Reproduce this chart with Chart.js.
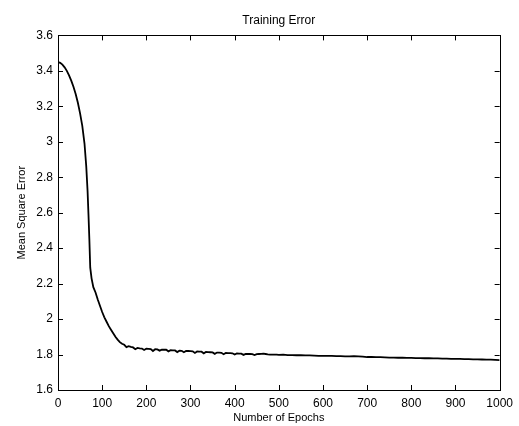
<!DOCTYPE html>
<html>
<head>
<meta charset="utf-8">
<script src="https://cdn.jsdelivr.net/npm/chart.js@4"></script>
<style>
  html, body { margin: 0; padding: 0; background: #fff; }
  #chart { display: block; }
</style>
</head>
<body>
<canvas id="chart" width="519" height="426"></canvas>
<script>
// values
const epochs = [
    0, 5, 10, 15, 20, 25, 30, 35, 40, 45, 50, 55, 60, 64, 67, 69, 71, 73, 76, 80, 85, 90, 95,
    100, 105, 110, 115, 120, 125, 130, 135, 140, 145, 150, 155, 160, 165, 170, 175, 180, 185, 190, 195,
    200, 205, 210, 215, 220, 225, 230, 235, 240, 245, 250, 255, 260, 265, 270, 275, 280, 285, 290, 295,
    300, 305, 310, 315, 320, 325, 330, 335, 340, 345, 350, 355, 360, 365, 370, 375, 380, 385, 390, 395,
    400, 405, 410, 415, 420, 425, 430, 435, 440, 445, 450, 455, 460, 465, 470, 475, 480, 485, 490, 495,
    500, 510, 520, 530, 540, 550, 560, 570, 580, 590, 600, 610, 620, 630, 640, 650, 660, 670, 680, 690,
    700, 710, 720, 730, 740, 750, 760, 770, 780, 790, 800, 810, 820, 830, 840, 850, 860, 870, 880, 890,
    900, 910, 920, 930, 940, 950, 960, 970, 980, 990, 1000
];
const mse = [
    3.45, 3.445, 3.435, 3.42, 3.40, 3.375, 3.345, 3.31, 3.27, 3.22, 3.16, 3.09, 2.99, 2.86, 2.72, 2.59, 2.45, 2.29, 2.23, 2.18, 2.15, 2.11, 2.075,
    2.04, 2.01, 1.985, 1.96, 1.94, 1.92, 1.90, 1.884, 1.870, 1.861, 1.855, 1.842, 1.847, 1.843, 1.840, 1.830, 1.837, 1.835, 1.834, 1.826,
    1.833, 1.832, 1.831, 1.820, 1.830, 1.829, 1.822, 1.828, 1.827, 1.827, 1.818, 1.825, 1.824, 1.823, 1.814, 1.822, 1.821, 1.813, 1.820, 1.820,
    1.819, 1.818, 1.809, 1.817, 1.816, 1.816, 1.807, 1.815, 1.814, 1.813, 1.812, 1.804, 1.811, 1.811, 1.810, 1.802, 1.809, 1.808, 1.808, 1.807,
    1.800, 1.806, 1.805, 1.805, 1.798, 1.804, 1.803, 1.803, 1.802, 1.797, 1.802, 1.803, 1.804, 1.805, 1.803, 1.801, 1.800, 1.800, 1.799, 1.799,
    1.798, 1.799, 1.797, 1.797, 1.796, 1.796, 1.795, 1.795, 1.794, 1.793, 1.793, 1.792, 1.792, 1.791, 1.791, 1.790, 1.790, 1.791, 1.790, 1.788,
    1.786, 1.786, 1.785, 1.785, 1.784, 1.783, 1.783, 1.782, 1.782, 1.781, 1.781, 1.780, 1.780, 1.779, 1.779, 1.778, 1.778, 1.777, 1.777, 1.776,
    1.776, 1.775, 1.774, 1.774, 1.773, 1.773, 1.772, 1.771, 1.771, 1.770, 1.769
];
const xTicks = [0, 100, 200, 300, 400, 500, 600, 700, 800, 900, 1000];
const yTicks = [1.6, 1.8, 2, 2.2, 2.4, 2.6, 2.8, 3, 3.2, 3.4, 3.6];

const points = [];
for (let i = 0; i < epochs.length; i++) {
    points.push({ x: epochs[i], y: mse[i] });
}

// MATLAB style box with inward ticks on all four sides
const boxPlugin = {
    id: "box",
    afterDraw(chart) {
        const ctx = chart.ctx;
        const a = chart.chartArea;
        const xs = chart.scales.x;
        const ys = chart.scales.y;
        const len = 5;
        ctx.save();
        ctx.strokeStyle = "#000";
        ctx.lineWidth = 1;
        ctx.strokeRect(Math.round(a.left) + 0.5, Math.round(a.top) + 0.5,
            Math.round(a.right - a.left), Math.round(a.bottom - a.top));
        ctx.beginPath();
        for (let v of xTicks) {
            const px = Math.round(xs.getPixelForValue(v)) + 0.5;
            ctx.moveTo(px, a.bottom);
            ctx.lineTo(px, a.bottom - len);
            ctx.moveTo(px, a.top);
            ctx.lineTo(px, a.top + len);
        }
        for (let v of yTicks) {
            const py = Math.round(ys.getPixelForValue(v)) + 0.5;
            ctx.moveTo(a.left, py);
            ctx.lineTo(a.left + len, py);
            ctx.moveTo(a.right, py);
            ctx.lineTo(a.right - len, py);
        }
        ctx.stroke();
        ctx.restore();
    }
};

const tickFont = { family: "'Liberation Sans', Arial, sans-serif", size: 12 };
const labelFont = { family: "'Liberation Sans', Arial, sans-serif", size: 11 };

new Chart(document.querySelector("#chart"), {
    type: "line",
    data: {
        datasets: [{
            label: "Training Error",
            data: points,
            borderColor: "#000",
            borderWidth: 1.8,
            pointRadius: 0,
            tension: 0,
            fill: false
        }]
    },
    options: {
        responsive: false,
        animation: false,
        layout: { padding: { top: 0, right: 13, bottom: 0, left: 0 } },
        plugins: {
            legend: { display: false },
            tooltip: { enabled: false },
            title: {
                display: true,
                text: "Training Error",
                fullSize: false,
                color: "#000",
                font: { family: "'Liberation Sans', Arial, sans-serif", size: 12, weight: "normal" },
                padding: { top: 13, bottom: 8 }
            }
        },
        scales: {
            x: {
                type: "linear",
                min: 0,
                max: 1000,
                afterBuildTicks: (scale) => { scale.ticks = xTicks.map(v => ({ value: v })); },
                afterFit: (scale) => { scale.height = 36; },
                grid: { display: false, drawTicks: false },
                border: { display: false },
                ticks: {
                    color: "#000",
                    font: tickFont,
                    padding: 6,
                    maxRotation: 0,
                    callback: (v) => String(v)
                },
                title: {
                    display: true,
                    text: "Number of Epochs",
                    color: "#000",
                    font: labelFont,
                    padding: { top: 0, bottom: 1 }
                }
            },
            y: {
                type: "linear",
                min: 1.6,
                max: 3.6,
                afterBuildTicks: (scale) => { scale.ticks = yTicks.map(v => ({ value: v })); },
                afterFit: (scale) => { scale.width = 58; },
                grid: { display: false, drawTicks: false },
                border: { display: false },
                ticks: {
                    color: "#000",
                    font: tickFont,
                    padding: 5,
                    callback: (v) => String(Math.round(v * 10) / 10)
                },
                title: {
                    display: true,
                    text: "Mean Square Error",
                    color: "#000",
                    font: labelFont,
                    padding: { top: 15, bottom: 0 }
                }
            }
        }
    },
    plugins: [boxPlugin]
});
</script>
</body>
</html>
